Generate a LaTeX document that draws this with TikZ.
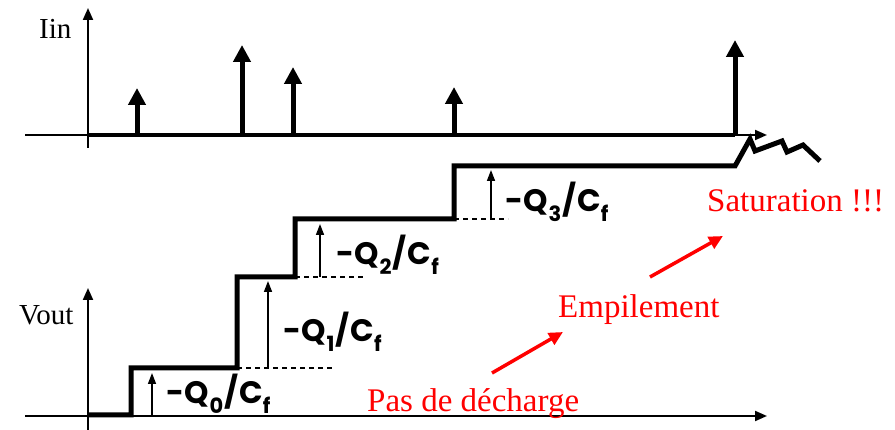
\documentclass[tikz,border=0pt]{standalone}
\usepackage{fontspec}
\setmainfont{Liberation Serif}
\newfontfamily\qfont{Poppins}
\usetikzlibrary{arrows.meta}
\newcommand\qlab[1]{{\qfont\bfseries\fontsize{31}{31}\selectfont -Q\kern1pt\raisebox{-.32em}{\fontsize{21}{21}\selectfont #1}\kern1pt/\kern1pt C\raisebox{-.32em}{\fontsize{21}{21}\selectfont f}}}
\tikzset{
  axis/.style={line width=2pt,-{Triangle[width=10pt,length=12pt]}},
  impulse/.style={line width=5pt,-{Triangle[width=17pt,length=17pt]}},
  thickline/.style={line width=5pt,line join=miter},
  steparrow/.style={line width=1.6pt,-{Triangle[width=8pt,length=11pt]}},
  dashline/.style={line width=1.5pt,dash pattern=on 5pt off 4pt},
  redlabel/.style={text=red,font=\fontsize{33}{33}\selectfont,inner sep=0pt,anchor=base west},
  blacklabel/.style={font=\fontsize{29}{29}\selectfont,inner sep=0pt,anchor=base west},
  qlabel/.style={inner sep=0pt,anchor=base west},
  redarrow/.style={red,line width=3.5pt,-{Triangle[width=13pt,length=14pt]}}
}
\begin{document}
\begin{tikzpicture}[x=1pt,y=-1pt]
\useasboundingbox (0,0) rectangle (895,430);
% ---------- top panel ----------
\coordinate (iy0) at (88,148);
\coordinate (iy1) at (88,8);
\coordinate (ix0) at (25,135);
\coordinate (ix1) at (767,135);
\coordinate (ixa) at (88,135);
\coordinate (ixb) at (735,135);
\draw[axis] (iy0) -- (iy1);
\draw[axis] (ix0) -- (ix1);
\draw[line width=4.5pt] (ixa) -- (ixb);
\node[blacklabel] (iin) at (39,39) {Iin};
\foreach \n/\x/\t in {a/137/88,b/242/45,c/293/67,d/454/87,e/735/40}{
  \coordinate (p\n0) at (\x,135);
  \coordinate (p\n1) at (\x,\t);
  \draw[impulse] (p\n0) -- (p\n1);
}
% ---------- bottom panel ----------
\coordinate (vy0) at (88,430);
\coordinate (vy1) at (88,288);
\coordinate (vx0) at (25,416);
\coordinate (vx1) at (767,416);
\draw[axis] (vy0) -- (vy1);
\draw[axis] (vx0) -- (vx1);
\node[blacklabel] (vout) at (19,325) {Vout};
% staircase
\coordinate (s0) at (88,415);
\coordinate (s1) at (131,415);
\coordinate (s2) at (131,368);
\coordinate (s3) at (237,368);
\coordinate (s4) at (237,277);
\coordinate (s5) at (295,277);
\coordinate (s6) at (295,219);
\coordinate (s7) at (454,219);
\coordinate (s8) at (454,166);
\coordinate (s9) at (735,166);
\coordinate (z1) at (750,139);
\coordinate (z2) at (755,151);
\coordinate (z3) at (782,141);
\coordinate (z4) at (787,152);
\coordinate (z5) at (803,145);
\coordinate (z6) at (820,161);
\draw[thickline] (s0) -- (s1) -- (s2) -- (s3) -- (s4) -- (s5) -- (s6) -- (s7) -- (s8) -- (s9)
  -- (z1) -- (z2) -- (z3) -- (z4) -- (z5) -- (z6);
% dashed levels
\coordinate (d1e) at (333,368);
\coordinate (d2e) at (363,277);
\coordinate (d3e) at (508,219);
\draw[dashline] (s3) -- (d1e);
\draw[dashline] (s5) -- (d2e);
\draw[dashline] (s7) -- (d3e);
% step arrows
\coordinate (a00) at (152,416); \coordinate (a01) at (152,373);
\coordinate (a10) at (268,368); \coordinate (a11) at (268,281);
\coordinate (a20) at (320,277); \coordinate (a21) at (320,224);
\coordinate (a30) at (491,219); \coordinate (a31) at (491,170);
\draw[steparrow] (a00) -- (a01);
\draw[steparrow] (a10) -- (a11);
\draw[steparrow] (a20) -- (a21);
\draw[steparrow] (a30) -- (a31);
% step labels
\node[qlabel] (q0) at (166,404) {\qlab{0}};
\node[qlabel] (q1) at (283,342) {\qlab{1}};
\node[qlabel] (q2) at (336,265) {\qlab{2}};
\node[qlabel] (q3) at (505,212) {\qlab{3}};
% red annotations
\node[redlabel] (sat) at (707,212) {Saturation !!!};
\node[redlabel] (emp) at (558,318) {Empilement};
\node[redlabel] (pas) at (367,412) {Pas de décharge};
\coordinate (r1a) at (492,373); \coordinate (r1b) at (563,332);
\coordinate (r2a) at (650,277); \coordinate (r2b) at (723,236);
\draw[redarrow] (r1a) -- (r1b);
\draw[redarrow] (r2a) -- (r2b);
\end{tikzpicture}
\end{document}
